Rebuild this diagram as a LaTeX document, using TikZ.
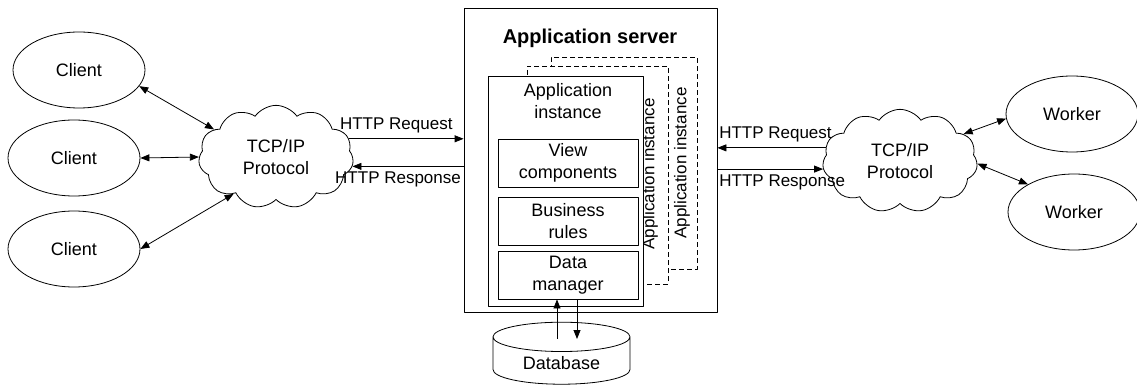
\documentclass[tikz,border=0pt]{standalone}
\usepackage{fontspec}
\setmainfont{Liberation Sans}
\usepackage{tikz}
\usetikzlibrary{arrows.meta,shapes.geometric,shapes.symbols}
\tikzset{
  every picture/.style={line join=round, >={Triangle[length=9pt,width=7pt]}},
  txt/.style={font=\fontsize{18}{22}\selectfont, align=center},
  lbl/.style={font=\fontsize{17}{20}\selectfont},
  peer/.style={txt, draw, ellipse, minimum width=132pt, minimum height=76pt},
  net/.style={txt, draw, cloud, cloud puffs=11, cloud puff arc=110, inner sep=0pt, minimum width=155pt, minimum height=84pt},
  part/.style={txt, draw, minimum width=140pt, minimum height=48pt, inner sep=0pt},
  ghost/.style={draw, fill=white, dash pattern=on 5pt off 3pt},
}
\begin{document}
\begin{tikzpicture}[x=1pt,y=-1pt,line width=0.8pt]
\useasboundingbox (0,0) rectangle (1137,387);
\node[peer](c1) at (79,70) {Client};
\node[peer](c2) at (74,158) {Client};
\node[peer](c3) at (74,249) {Client};
\node[net](netl) at (276,157) {TCP/IP\\Protocol};
\node[draw, minimum width=253pt, minimum height=304pt](srv) at (590.5,160) {};
\node[txt, font=\fontsize{20}{22}\selectfont\bfseries](srvt) at (590,38) {Application server};
\node[ghost, minimum width=146pt, minimum height=212pt](inst3) at (624,163) {};
\node[ghost, minimum width=141pt, minimum height=218pt](inst2) at (597.5,175) {};
\node[lbl, rotate=90](inst3t) at (682,163) {Application instance};
\node[lbl, rotate=90](inst2t) at (650,174) {Application instance};
\node[draw, fill=white, minimum width=155pt, minimum height=230pt](inst) at (565.5,191) {};
\node[txt](instt) at (568,101) {Application\\instance};
\node[part](view) at (568,163) {View\\components};
\node[part](rules) at (568,221) {Business\\rules};
\node[part](dm) at (568,275) {Data\\manager};
\node[txt, draw, cylinder, shape border rotate=90, aspect=0.35, minimum width=137pt, minimum height=62pt](db) at (561.5,363) {Database};
\coordinate (dbtop) at (561.5,339);
\node[net](netr) at (900,161) {TCP/IP\\Protocol};
\node[peer](w1) at (1072,114) {Worker};
\node[peer](w2) at (1074,212) {Worker};
\draw[<->](c1.-15)--(netl.156);
\draw[<->](c2.east)--(netl.west);
\draw[<->](c3.east)--(netl.221);
\draw[->](netl.14)--(netl.14 -| srv.west)node[lbl, midway, above=2pt, xshift=-10pt]{HTTP Request};
\draw[<-](netl.-7)--(netl.-7 -| srv.west)node[lbl, midway, below=2pt, xshift=-10pt]{HTTP Response};
\draw[<-]([xshift=-11pt]dm.south)--([xshift=-11pt]dm.south |- dbtop);
\draw[->]([xshift=9pt]dm.south)--([xshift=9pt]dm.south |- dbtop);
\draw[<-](netr.170 -| srv.east)--(netr.170)node[lbl, midway, above=2pt, xshift=4pt]{HTTP Request};
\draw[->](netr.186 -| srv.east)--(netr.186)node[lbl, midway, below=2pt, xshift=12pt]{HTTP Response};
\draw[<->](netr.23)--(w1.184);
\draw[<->](netr.-2)--(w2.149);
\end{tikzpicture}
\end{document}
